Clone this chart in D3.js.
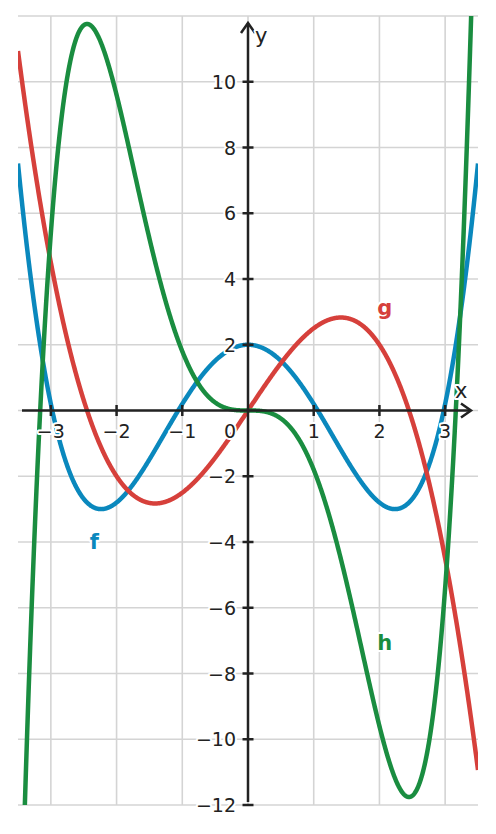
<!DOCTYPE html>
<html>
<head>
<meta charset="utf-8">
<script src="https://cdn.jsdelivr.net/npm/d3@7"></script>
<style>
  body { margin: 0; background: #fff; }
  text { font-family: "DejaVu Sans", sans-serif; }
</style>
</head>
<body>
<script>
// polynomial coefficients, lowest power first
const fCoef = [2, 0, -2, 0, 0.2];
const gCoef = [0, 3, 0, -0.5];
const hCoef = [0, 0, 0, -2, 0, 0.2];
const seriesNames = ["f", "g", "h"];
const seriesColors = ["#0a88bd", "#d6403b", "#1a8d40"];
const labelPos = [[-2.34, -4.2], [2.08, 2.92], [2.08, -7.3]];
const xTicks = [-3, -2, -1, 1, 2, 3];
const yTicks = [-12, -10, -8, -6, -4, -2, 2, 4, 6, 8, 10];
const xDomain = [-3.5, 3.5];
const yDomain = [-12, 12];

const W = 496, H = 834;
const pLeft = 18, pRight = 478, pTop = 16, pBottom = 805;

const x = d3.scaleLinear().domain(xDomain).range([pLeft, pRight]);
const y = d3.scaleLinear().domain(yDomain).range([pBottom, pTop]);

const svg = d3.select('body').append('svg')
    .attr('width', W).attr('height', H);

svg.append('defs').append('clipPath').attr('id', 'clip')
  .append('rect')
    .attr('x', pLeft).attr('y', pTop)
    .attr('width', pRight - pLeft).attr('height', pBottom - pTop);

// grid
const grid = svg.append('g').attr('stroke', '#d4d4d4').attr('stroke-width', 1.6);
grid.selectAll('.gx')
  .data(d3.range(-3, 4))
  .enter().append('line')
    .attr('x1', d => x(d)).attr('x2', d => x(d))
    .attr('y1', pTop).attr('y2', pBottom);
grid.selectAll('.gy')
  .data(d3.range(-12, 13, 2))
  .enter().append('line')
    .attr('x1', pLeft).attr('x2', pRight)
    .attr('y1', d => y(d)).attr('y2', d => y(d));

// curves
const poly = (c, t) => c.reduce((s, a, i) => s + a * Math.pow(t, i), 0);
const xs = d3.range(xDomain[0], xDomain[1] + 0.0001, 0.005);
const line = d3.line().x(d => x(d[0])).y(d => y(d[1]));

const coefs = [fCoef, gCoef, hCoef];
const curves = svg.append('g').attr('clip-path', 'url(#clip)');

// axes
const ax = svg.append('g').attr('stroke', '#222').attr('stroke-width', 2.5).attr('fill', 'none');
ax.append('line').attr('x1', 22).attr('x2', 471).attr('y1', y(0)).attr('y2', y(0));
ax.append('line').attr('x1', x(0)).attr('x2', x(0)).attr('y1', 802).attr('y2', 23);
ax.append('path')
    .attr('d', `M${471 - 10},${y(0) - 7} L471,${y(0)} L${471 - 10},${y(0) + 7}`);
ax.append('path')
    .attr('d', `M${x(0) - 7},${23 + 10} L${x(0)},23 L${x(0) + 7},${23 + 10}`);
ax.selectAll('.tx')
  .data(xTicks)
  .enter().append('line')
    .attr('x1', d => x(d)).attr('x2', d => x(d))
    .attr('y1', y(0) - 5.5).attr('y2', y(0) + 5.5);
ax.selectAll('.ty')
  .data(yTicks)
  .enter().append('line')
    .attr('x1', x(0) - 5.5).attr('x2', x(0) + 5.5)
    .attr('y1', d => y(d)).attr('y2', d => y(d));

coefs.forEach((c, i) => {
  curves.append('path')
    .datum(xs.map(t => [t, poly(c, t)]).filter(p => Math.abs(p[1]) < 20))
    .attr('d', line)
    .attr('fill', 'none')
    .attr('stroke', seriesColors[i])
    .attr('stroke-width', 4.5)
    .attr('stroke-linejoin', 'round');
});

// tick labels with white halo
const halo = sel => sel.attr('paint-order', 'stroke').attr('stroke', '#fff')
    .attr('stroke-width', 4).attr('stroke-linejoin', 'round');

svg.selectAll('.lx')
  .data(xTicks)
  .enter().append('text')
    .attr('x', d => x(d)).attr('y', y(0) + 27.5)
    .attr('text-anchor', 'middle')
    .attr('font-size', 19).attr('fill', '#222')
    .text(d => d < 0 ? '\u2212' + Math.abs(d) : d)
    .call(halo);
svg.selectAll('.ly')
  .data(yTicks)
  .enter().append('text')
    .attr('x', x(0) - 12).attr('y', d => y(d) + 7)
    .attr('text-anchor', 'end')
    .attr('font-size', 19).attr('fill', '#222')
    .text(d => d < 0 ? '\u2212' + Math.abs(d) : d)
    .call(halo);
svg.append('text')
    .attr('x', x(0) - 12).attr('y', y(0) + 27.5)
    .attr('text-anchor', 'end')
    .attr('font-size', 19).attr('fill', '#222')
    .text('0').call(halo);

svg.append('text').attr('x', 455).attr('y', 398)
    .attr('font-size', 21).attr('fill', '#222').text('x').call(halo);
svg.append('text').attr('x', 255).attr('y', 43)
    .attr('font-size', 21).attr('fill', '#222').text('y').call(halo);

// function names
svg.selectAll('.fn')
  .data(seriesNames)
  .enter().append('text')
    .attr('x', (d, i) => x(labelPos[i][0]))
    .attr('y', (d, i) => y(labelPos[i][1]))
    .attr('text-anchor', 'middle')
    .attr('font-size', 21).attr('font-weight', 'bold')
    .attr('fill', (d, i) => seriesColors[i])
    .text(d => d)
    .call(halo);
</script>
</body>
</html>
